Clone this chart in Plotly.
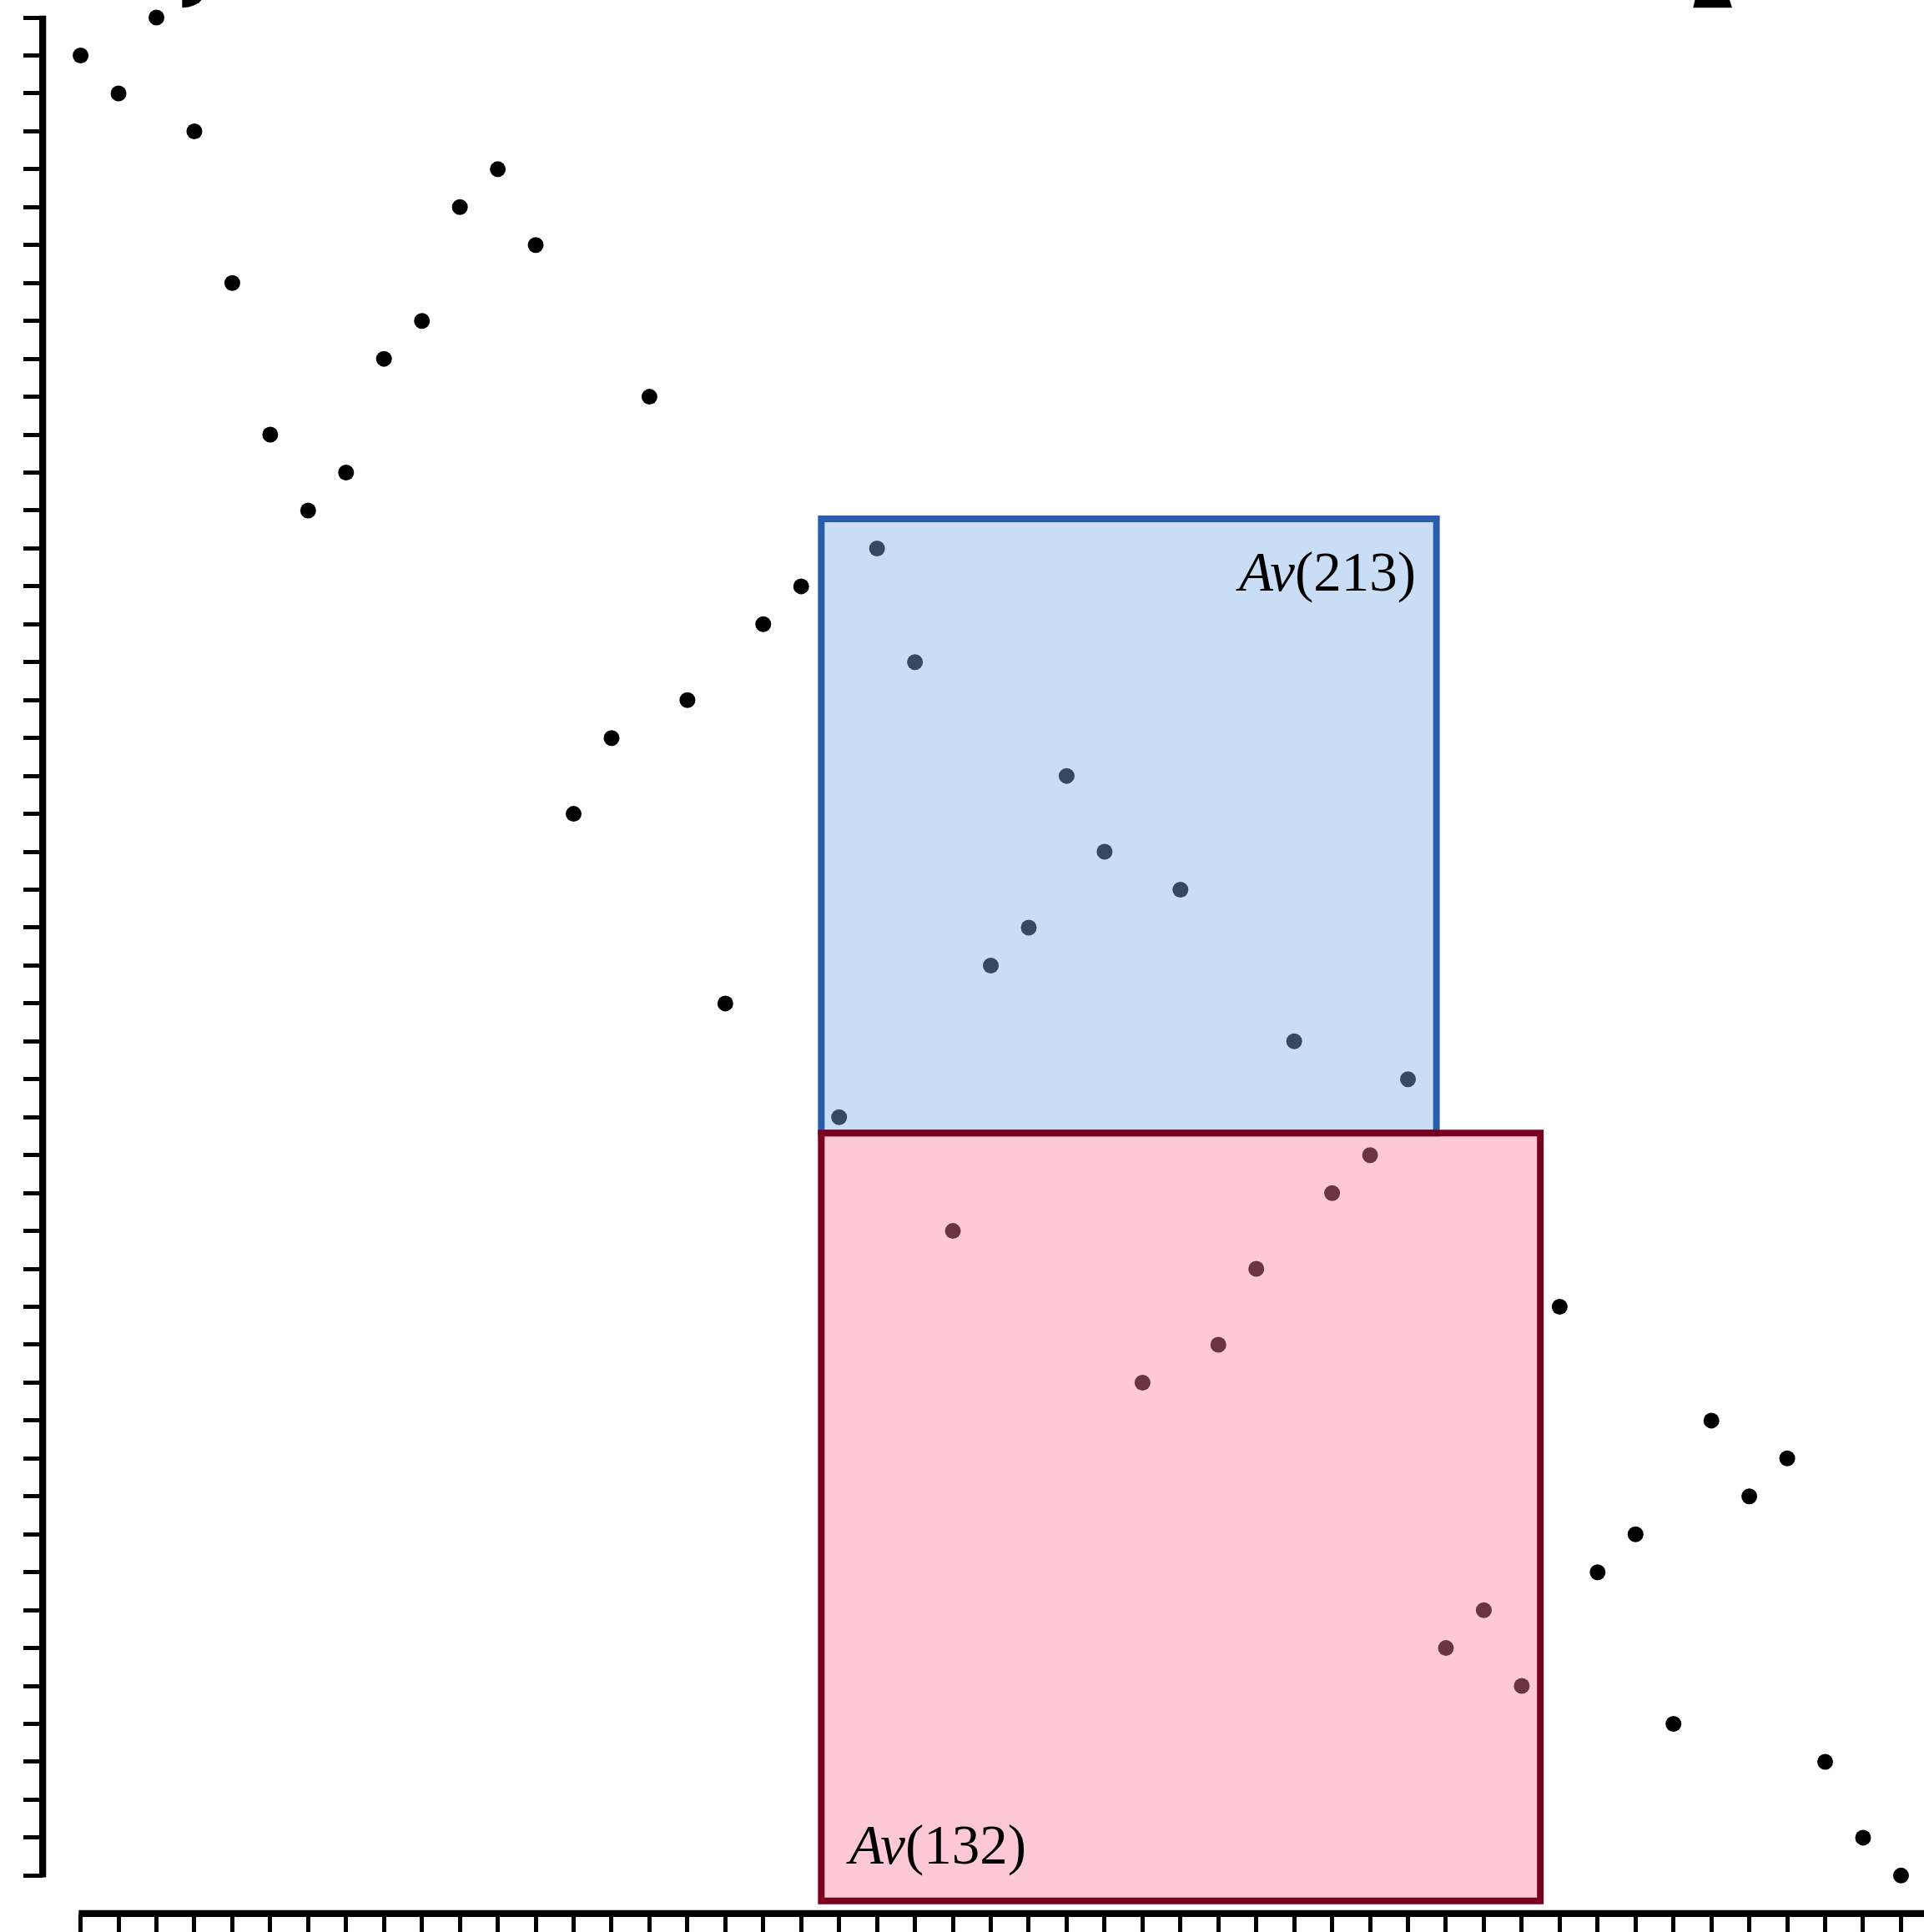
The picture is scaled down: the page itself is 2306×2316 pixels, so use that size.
import plotly.graph_objects as go

# Permutation diagram: position index -> value
positions = list(range(1, 50))
values = [49, 48, 50, 47, 43, 39, 37, 38, 41, 42, 45, 46, 44, 29, 31, 40, 32, 24,
          34, 35, 21, 36, 33, 18, 25, 26, 30, 28, 14, 27, 15, 17, 23, 19, 20, 22,
          7, 8, 6, 16, 9, 10, 5, 13, 11, 12, 4, 2, 1]

tick_values = list(range(1, 51))

# Highlighted pattern-avoiding blocks: (label, x0, x1, y0, y1)
block_213 = ("<i>Av</i>(213)", 20.53, 36.75, 20.58, 36.78)
block_132 = ("<i>Av</i>(132)", 20.53, 39.49, 0.33, 20.58)

W, H = 2306, 2316
UNIT = 45.455          # pixels per unit on both axes
X0_PX, Y0_PX = 51.15, 2293.8   # pixel position of the origin

x_range = [-X0_PX / UNIT, (W - X0_PX) / UNIT]
y_range = [(Y0_PX - H) / UNIT, Y0_PX / UNIT]

fig = go.Figure()

fig.add_trace(go.Scatter(
    x=positions, y=values, mode="markers",
    marker=dict(size=19, color="black", line=dict(width=0)),
    hoverinfo="skip", showlegend=False,
))

shapes = []
# axis spines running from the first to the last tick
shapes.append(dict(type="line", xref="x", yref="y", x0=0, x1=0,
                   y0=tick_values[0] - 0.05, y1=tick_values[-1] + 0.05,
                   line=dict(color="black", width=8.3), layer="above"))
shapes.append(dict(type="line", xref="x", yref="y", y0=0, y1=0,
                   x0=tick_values[0] - 0.05, x1=tick_values[-1] + 0.05,
                   line=dict(color="black", width=8.3), layer="above"))

# translucent blocks drawn over the points
shapes.append(dict(type="rect", xref="x", yref="y",
                   x0=block_213[1], x1=block_213[2], y0=block_213[3], y1=block_213[4],
                   fillcolor="rgba(126,174,231,0.42)",
                   line=dict(color="#2a5cae", width=8), layer="above"))
shapes.append(dict(type="rect", xref="x", yref="y",
                   x0=block_132[1], x1=block_132[2], y0=block_132[3], y1=block_132[4],
                   fillcolor="rgba(252,126,152,0.42)",
                   line=dict(color="#7a0020", width=8), layer="above"))

# clipped strokes along the top border
def px_path(pts):
    return "M " + " L ".join(f"{x / W:.5f},{1 - y / H:.5f}" for x, y in pts) + " Z"

shapes.append(dict(type="path", xref="paper", yref="paper",
                   path=px_path([(218.3, -1), (218.3, 9.3), (226, 8.4), (233, 6.2),
                                 (238.5, 3.2), (242.5, -1)]),
                   fillcolor="black", line=dict(width=0), layer="above"))
shapes.append(dict(type="path", xref="paper", yref="paper",
                   path=px_path([(2031.7, -1), (2029.3, 9.3), (2076, 9.3), (2072.7, -1)]),
                   fillcolor="black", line=dict(width=0), layer="above"))

annotations = [
    dict(text=block_213[0], xref="x", yref="y", x=36.25, y=35.38,
         xanchor="right", yanchor="middle", showarrow=False,
         font=dict(family="Liberation Serif", size=67, color="black")),
    dict(text=block_132[0], xref="x", yref="y", x=21.14, y=1.80,
         xanchor="left", yanchor="middle", showarrow=False,
         font=dict(family="Liberation Serif", size=67, color="black")),
]

common_axis = dict(showgrid=False, zeroline=False, showline=False,
                   showticklabels=False, ticks="outside", tickcolor="black",
                   tickwidth=4.8, tickmode="array", tickvals=tick_values,
                   anchor="free", automargin=False, fixedrange=True)

fig.update_layout(
    width=W, height=H,
    margin=dict(l=0, r=0, t=0, b=0),
    paper_bgcolor="white", plot_bgcolor="white",
    xaxis=dict(range=x_range, domain=[0, 1], position=1 - Y0_PX / H,
               ticklen=26, **common_axis),
    yaxis=dict(range=y_range, domain=[0, 1], position=X0_PX / W,
               ticklen=23, **common_axis),
    shapes=shapes,
    annotations=annotations,
    showlegend=False,
)

fig.write_html("out.html", config={"displayModeBar": False})
